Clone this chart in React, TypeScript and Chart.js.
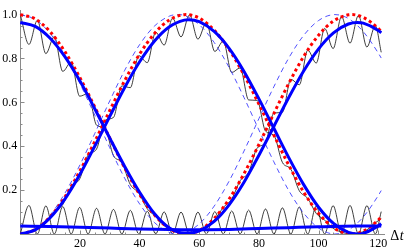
import React, { useEffect, useRef } from "react";
import { Chart, registerables } from "chart.js";

Chart.register(...registerables);

// ---- axis ticks ----
const xTicks = [20, 40, 60, 80, 100, 120];
const yTicks = [0.2, 0.4, 0.6, 0.8, 1.0];
const X_MAX = 122;
const Y_MAX = 1.02;

// ---- thin black curves (read at peaks / troughs of the fast oscillation) ----
const tFast = [0, 2.9, 5.73, 8.57, 11.4, 14.23, 17.06, 19.9, 22.73, 25.56, 28.39, 31.23, 34.06, 36.89, 39.72, 42.56, 45.39, 48.22, 51.05, 53.89, 56.72, 59.55, 62.38, 65.22, 68.05, 70.88, 73.71, 76.55, 79.38, 82.21, 85.04, 87.88, 90.71, 93.54, 96.37, 99.21, 102.04, 104.87, 107.7, 110.54, 113.37, 116.2, 119.03, 121];
const black1 = [1, 0.864, 0.974, 0.822, 0.9, 0.741, 0.784, 0.628, 0.64, 0.496, 0.482, 0.357, 0.325, 0.225, 0.187, 0.115, 0.08, 0.038, 0.016, 0.002, 0.001, 0.012, 0.037, 0.066, 0.121, 0.159, 0.243, 0.281, 0.391, 0.417, 0.551, 0.555, 0.705, 0.68, 0.838, 0.779, 0.937, 0.845, 0.991, 0.87, 0.996, 0.852, 0.949, 0.828];
const black2 = [0, 0.006, 0.026, 0.05, 0.101, 0.134, 0.216, 0.251, 0.36, 0.387, 0.518, 0.531, 0.675, 0.667, 0.813, 0.781, 0.92, 0.861, 0.984, 0.898, 0.999, 0.888, 0.963, 0.832, 0.879, 0.736, 0.757, 0.611, 0.609, 0.469, 0.449, 0.326, 0.295, 0.197, 0.162, 0.094, 0.063, 0.026, 0.009, 0.0, 0.004, 0.019, 0.051, 0.07];
const black3 = [0, 0.13, 0, 0.128, 0, 0.125, 0, 0.121, 0, 0.117, 0, 0.112, 0, 0.108, 0, 0.104, 0, 0.101, 0, 0.1, 0, 0.1, 0, 0.102, 0, 0.105, 0, 0.109, 0, 0.114, 0, 0.119, 0, 0.123, 0, 0.127, 0, 0.129, 0, 0.13, 0, 0.129, 0, 0.102];

// ---- red dotted curves ----
const tRed = [0, 5, 10, 15, 20, 25, 30, 35, 40, 45, 50, 55, 55.5, 60, 65, 70, 75, 80, 85, 90, 95, 100, 105, 110, 111, 115, 120, 121];
const red1 = [1, 0.98, 0.922, 0.83, 0.712, 0.578, 0.437, 0.301, 0.18, 0.086, 0.024, 0.0002, 0, 0.016, 0.071, 0.159, 0.275, 0.408, 0.549, 0.686, 0.809, 0.906, 0.971, 0.999, 1, 0.987, 0.937, 0.922];
const red2 = [0, 0.02, 0.078, 0.17, 0.288, 0.422, 0.563, 0.699, 0.82, 0.914, 0.976, 0.9998, 1, 0.984, 0.929, 0.841, 0.725, 0.592, 0.451, 0.314, 0.191, 0.094, 0.029, 0.001, 0, 0.013, 0.063, 0.078];

// ---- thick blue curves ----
const tBlue = [0, 5, 10, 15, 20, 25, 30, 35, 40, 45, 50, 55, 56.5, 60, 65, 70, 75, 80, 85, 90, 95, 100, 105, 110, 113, 115, 120, 121];
const blueA = [0.964, 0.946, 0.892, 0.807, 0.697, 0.57, 0.437, 0.308, 0.19, 0.092, 0.027, 0.004, 0.004, 0.014, 0.057, 0.133, 0.236, 0.359, 0.49, 0.622, 0.743, 0.844, 0.917, 0.957, 0.964, 0.961, 0.928, 0.917];
const blueB = [0, 0.019, 0.074, 0.16, 0.272, 0.401, 0.536, 0.668, 0.785, 0.88, 0.945, 0.975, 0.977, 0.968, 0.923, 0.846, 0.741, 0.616, 0.482, 0.348, 0.225, 0.122, 0.048, 0.007, 0, 0.003, 0.037, 0.047];
const tFlat = [0, 10, 20, 30, 40, 50, 56.5, 70, 80, 90, 100, 113, 121];
const blueFlat = [0.036, 0.034, 0.031, 0.027, 0.023, 0.02, 0.019, 0.021, 0.025, 0.029, 0.033, 0.036, 0.036];

// ---- thin dashed blue curves ----
const tDash = [0, 5, 10, 15, 20, 25, 30, 35, 40, 45, 50, 52.75, 55, 60, 65, 70, 75, 80, 85, 90, 95, 100, 105, 105.5, 110, 115, 120, 121];
const dash1 = [1, 0.978, 0.914, 0.813, 0.685, 0.541, 0.393, 0.254, 0.137, 0.052, 0.007, 0, 0.004, 0.046, 0.127, 0.241, 0.378, 0.526, 0.671, 0.802, 0.905, 0.973, 0.9998, 1, 0.982, 0.922, 0.825, 0.802];
const dash2 = [0, 0.022, 0.086, 0.187, 0.315, 0.459, 0.607, 0.746, 0.863, 0.948, 0.993, 1, 0.996, 0.954, 0.873, 0.759, 0.622, 0.474, 0.329, 0.198, 0.095, 0.027, 0.0002, 0, 0.018, 0.078, 0.175, 0.198];

const pts = (t: number[], v: number[]) => t.map((x, i) => ({ x, y: v[i] }));

const SERIF = '"Liberation Serif", "Times New Roman", serif';

const axisDecor = {
  id: "axisDecor",
  beforeDatasetsDraw(chart: any) {
    const { ctx, scales } = chart;
    const xs = scales.x;
    const ys = scales.y;
    const x0 = Math.round(xs.getPixelForValue(0)) + 0.5;
    const y0 = Math.round(ys.getPixelForValue(0)) + 0.5;
    ctx.save();
    ctx.strokeStyle = "#8a8a8a";
    ctx.lineWidth = 1;
    ctx.beginPath();
    for (let v = 5; v <= 120; v += 5) {
      const px = Math.round(xs.getPixelForValue(v)) + 0.5;
      const len = v % 20 === 0 ? 4 : 2;
      ctx.moveTo(px, y0);
      ctx.lineTo(px, y0 - len);
    }
    for (let k = 1; k <= 20; k++) {
      const v = k * 0.05;
      const py = Math.round(ys.getPixelForValue(v)) + 0.5;
      const len = k % 4 === 0 ? 4 : 2;
      ctx.moveTo(x0, py);
      ctx.lineTo(x0 + len, py);
    }
    ctx.stroke();
    ctx.restore();
  },
  afterDraw(chart: any) {
    const { ctx, chartArea, scales } = chart;
    const y0 = scales.y.getPixelForValue(0);
    ctx.save();
    ctx.fillStyle = "#000";
    ctx.textBaseline = "alphabetic";
    ctx.font = `14px ${SERIF}`;
    const xl = chartArea.right + 6;
    ctx.fillText("\u0394", xl, y0 + 6);
    const w = ctx.measureText("\u0394").width;
    ctx.font = `italic 14px ${SERIF}`;
    ctx.fillText("t", xl + w + 0.5, y0 + 6);
    ctx.restore();
  },
};

export default function App() {
  const ref = useRef<HTMLCanvasElement | null>(null);
  useEffect(() => {
    if (!ref.current) return;
    const common = {
      pointRadius: 0,
      cubicInterpolationMode: "monotone" as const,
      fill: false,
      clip: { left: 6, top: 6, right: 6, bottom: 0 } as any,
    };
    const chart = new Chart(ref.current, {
      type: "line",
      data: {
        datasets: [
          { ...common, data: pts(tBlue, blueA), borderColor: "#0000ff", borderWidth: 3, order: 0 },
          { ...common, data: pts(tBlue, blueB), borderColor: "#0000ff", borderWidth: 3, order: 0 },
          { ...common, data: pts(tFlat, blueFlat), borderColor: "#0000ff", borderWidth: 3, order: 0 },
          { ...common, data: pts(tRed, red1), borderColor: "#ff0000", borderWidth: 3, borderDash: [3, 3], order: 1 },
          { ...common, data: pts(tRed, red2), borderColor: "#ff0000", borderWidth: 3, borderDash: [3, 3], order: 1 },
          { ...common, data: pts(tDash, dash1), borderColor: "rgba(50,50,255,0.85)", borderWidth: 1, borderDash: [5, 4], order: 2 },
          { ...common, data: pts(tDash, dash2), borderColor: "rgba(50,50,255,0.85)", borderWidth: 1, borderDash: [5, 4], order: 2 },
          { ...common, data: pts(tFast, black1), borderColor: "rgba(0,0,0,0.85)", borderWidth: 0.9, order: 3 },
          { ...common, data: pts(tFast, black2), borderColor: "rgba(0,0,0,0.85)", borderWidth: 0.9, order: 3 },
          { ...common, data: pts(tFast, black3), borderColor: "rgba(0,0,0,0.85)", borderWidth: 0.9, order: 3 },
        ],
      },
      options: {
        responsive: false,
        animation: false,
        devicePixelRatio: 1,
        layout: { padding: { top: 7.6, right: 30.8, left: 0, bottom: 0 } },
        plugins: { legend: { display: false }, tooltip: { enabled: false } },
        scales: {
          x: {
            type: "linear",
            min: 0,
            max: X_MAX,
            afterBuildTicks: (s: any) => {
              s.ticks = xTicks.map((v) => ({ value: v }));
            },
            afterFit: (s: any) => {
              s.height = 17;
            },
            grid: { display: false, drawTicks: false },
            border: { display: true, color: "#8a8a8a", width: 1 },
            ticks: {
              color: "#000",
              font: { family: SERIF, size: 12 },
              padding: 3,
              maxRotation: 0,
              autoSkip: false,
              callback: (v: any) => String(v),
            },
          },
          y: {
            type: "linear",
            min: 0,
            max: Y_MAX,
            afterBuildTicks: (s: any) => {
              s.ticks = yTicks.map((v) => ({ value: v }));
            },
            afterFit: (s: any) => {
              s.width = 20.3;
            },
            grid: { display: false, drawTicks: false },
            border: { display: true, color: "#8a8a8a", width: 1 },
            ticks: {
              color: "#000",
              font: { family: SERIF, size: 12 },
              padding: 3,
              autoSkip: false,
              callback: (v: any) => Number(v).toFixed(1),
            },
          },
        },
      },
      plugins: [axisDecor],
    });
    return () => chart.destroy();
  }, []);
  return (
    <div style={{ position: "fixed", left: 0, top: 0, width: 415, height: 251, background: "#fff" }}>
      <canvas ref={ref} width={415} height={251} style={{ display: "block" }} />
    </div>
  );
}
